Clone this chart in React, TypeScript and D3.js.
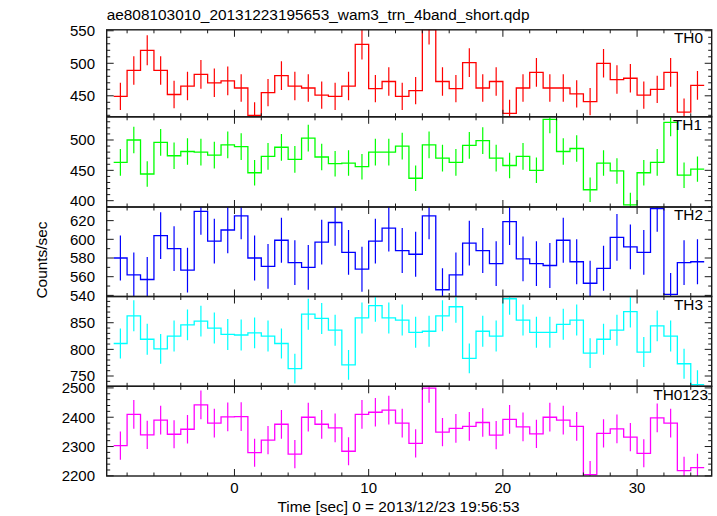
import React from "react";
import * as d3 from "d3";

// ---- data (1-s bins, centre times in seconds) ----
const binCentres = [
  -8.5, -7.5, -6.5, -5.5, -4.5, -3.5, -2.5, -1.5, -0.5, 0.5, 1.5, 2.5, 3.5, 4.5, 5.5,
  6.5, 7.5, 8.5, 9.5, 10.5, 11.5, 12.5, 13.5, 14.5, 15.5, 16.5, 17.5, 18.5, 19.5, 20.5,
  21.5, 22.5, 23.5, 24.5, 25.5, 26.5, 27.5, 28.5, 29.5, 30.5, 31.5, 32.5, 33.5, 34.5,
];
const binHalfWidth = 0.5;

const th0Rate = [
  449, 489, 520, 489, 452, 465, 483, 470, 473, 462, 420, 455, 481, 465, 462, 451, 449, 465, 529, 461,
  472, 449, 458, 552, 472, 461, 501, 462, 472, 423, 462, 486, 462, 462, 453, 441, 500, 475, 477, 451,
  460, 486, 425, 466,
];
const th0Err = [
  21, 22, 23, 22, 21, 22, 22, 22, 22, 21, 20, 21, 22, 22, 21, 21, 21, 22, 23, 21,
  22, 21, 21, 23, 22, 21, 22, 21, 22, 21, 21, 22, 21, 21, 21, 21, 22, 22, 22, 21,
  21, 22, 21, 22,
];
const th1Rate = [
  463, 500, 444, 496, 474, 481, 480, 475, 492, 489, 446, 473, 488, 468, 503, 472, 461, 462, 456, 480,
  480, 490, 437, 492, 470, 463, 491, 499, 470, 458, 473, 450, 534, 481, 486, 418, 462, 449, 393, 446,
  463, 529, 442, 452,
];
const th1Err = [
  22, 22, 21, 22, 22, 22, 22, 22, 22, 22, 21, 22, 22, 22, 22, 22, 21, 21, 21, 22,
  22, 22, 21, 22, 22, 22, 22, 22, 22, 21, 22, 21, 23, 22, 22, 20, 21, 21, 20, 21,
  22, 23, 21, 21,
];
const th2Rate = [
  580, 562, 557, 604, 590, 567, 630, 598, 610, 625, 580, 571, 599, 575, 570, 597, 618, 586, 568, 598,
  612, 588, 584, 625, 546, 562, 596, 588, 574, 619, 579, 574, 572, 599, 576, 553, 569, 602, 592, 586,
  633, 541, 575, 576,
];
const th2Err = [
  24, 24, 24, 25, 24, 24, 25, 24, 25, 25, 24, 24, 24, 24, 24, 24, 25, 24, 24, 24,
  25, 24, 24, 25, 23, 24, 24, 24, 24, 25, 24, 24, 24, 24, 24, 24, 24, 25, 24, 24,
  25, 23, 24, 24,
];
const th3Rate = [
  811, 863, 819, 801, 825, 846, 853, 840, 828, 827, 831, 825, 811, 764, 866, 858, 836, 771, 859, 882,
  859, 855, 832, 834, 863, 880, 783, 834, 825, 895, 855, 832, 832, 847, 855, 793, 819, 836, 871, 795,
  844, 825, 773, 734,
];
const th3Err = [
  28, 29, 29, 28, 29, 29, 29, 29, 29, 29, 29, 29, 28, 28, 29, 29, 29, 28, 29, 30,
  29, 29, 29, 29, 29, 30, 28, 29, 29, 30, 29, 29, 29, 29, 29, 28, 29, 29, 30, 28,
  29, 29, 28, 27,
];
const th0123Rate = [
  2303, 2410, 2340, 2390, 2342, 2359, 2442, 2380, 2401, 2402, 2279, 2322, 2376, 2274, 2400, 2376, 2364, 2284, 2410, 2417,
  2424, 2380, 2311, 2499, 2349, 2362, 2369, 2382, 2339, 2393, 2367, 2343, 2400, 2390, 2369, 2204, 2345, 2360, 2332, 2277,
  2398, 2380, 2218, 2228,
];
const th0123Err = [
  48, 49, 48, 49, 48, 49, 49, 49, 49, 49, 48, 48, 49, 48, 49, 49, 49, 48, 49, 49,
  49, 49, 48, 50, 48, 49, 49, 49, 48, 49, 49, 48, 49, 49, 49, 47, 48, 49, 48, 48,
  49, 49, 47, 47,
];

const panelNames = ["TH0", "TH1", "TH2", "TH3", "TH0123"];
const panelColors = ["#ff0000", "#00ff00", "#0000ff", "#00ffff", "#ff00ff"];
const panelDomains: [number, number][] = [
  [417.7, 551.5],
  [389.6, 538.2],
  [538.8, 634.6],
  [730.7, 899.2],
  [2199.5, 2505.5],
];
const yTickLabels = [
  [450, 500, 550],
  [400, 450, 500],
  [540, 560, 580, 600, 620],
  [750, 800, 850],
  [2200, 2300, 2400, 2500],
];
const yMinorSteps = [10, 10, 10, 10, 20];
const xTickLabels = [0, 10, 20, 30];
const xMinorStep = 2;
const xDomain: [number, number] = [-9.52, 35.56];

const titleText = "ae808103010_20131223195653_wam3_trn_4band_short.qdp";
const xAxisTitle = "Time [sec] 0 = 2013/12/23 19:56:53";
const yAxisTitle = "Counts/sec";

const rates = [th0Rate, th1Rate, th2Rate, th3Rate, th0123Rate];
const errs = [th0Err, th1Err, th2Err, th3Err, th0123Err];

// ---- layout ----
const W = 717;
const H = 516;
const LEFT = 106.7;
const RIGHT = 711.7;
const panelEdges = [29.8, 116.8, 207, 296.5, 386.3, 476];
const labelRight = [703, 702, 703, 703, 708];
const FONT = "'Liberation Sans', Arial, Helvetica, sans-serif";
const AXIS = "#1a1a1a";

export default function App() {
  const x = d3.scaleLinear().domain(xDomain).range([LEFT, RIGHT]);
  const xMinor = d3.range(Math.ceil(xDomain[0] / xMinorStep) * xMinorStep, xDomain[1], xMinorStep);

  return (
    <svg
      width={W}
      height={H}
      style={{ position: "absolute", left: 0, top: 0, display: "block", background: "#fff" }}
      fontFamily={FONT}
    >
      <rect x={0} y={0} width={W} height={H} fill="#fff" />
      <text x={LEFT} y={20} fontSize={15.4} fill="#000">
        {titleText}
      </text>
      {panelNames.map((name, pi) => {
        const top = panelEdges[pi];
        const bottom = panelEdges[pi + 1];
        const [lo, hi] = panelDomains[pi];
        const y = d3.scaleLinear().domain([lo, hi]).range([bottom, top]);
        const v = rates[pi];
        const e = errs[pi];
        const pts: [number, number][] = binCentres.map((t, i) => [t - binHalfWidth, v[i]]);
        pts.push([binCentres[binCentres.length - 1] + binHalfWidth, v[v.length - 1]]);
        const line = d3
          .line<[number, number]>()
          .x((d) => x(d[0]))
          .y((d) => y(d[1]))
          .curve(d3.curveStepAfter);
        const minor = d3.range(Math.ceil(lo / yMinorSteps[pi]) * yMinorSteps[pi], hi, yMinorSteps[pi]);
        const clipId = `clip-${pi}`;
        const color = panelColors[pi];
        return (
          <g key={name}>
            <defs>
              <clipPath id={clipId}>
                <rect x={LEFT} y={top} width={RIGHT - LEFT} height={bottom - top} />
              </clipPath>
            </defs>
            <g clipPath={`url(#${clipId})`}>
              {binCentres.map((t, i) => (
                <line
                  key={i}
                  x1={x(t)}
                  x2={x(t)}
                  y1={y(v[i] - e[i])}
                  y2={y(v[i] + e[i])}
                  stroke={color}
                  strokeWidth={1.2}
                />
              ))}
              <path d={line(pts) || ""} fill="none" stroke={color} strokeWidth={1.3} />
            </g>
            {/* y ticks left & right */}
            {minor.map((m) => {
              const major = yTickLabels[pi].includes(m);
              const len = major ? 7 : 3.5;
              const yy = y(m);
              return (
                <g key={`y${m}`}>
                  <line x1={LEFT} x2={LEFT + len} y1={yy} y2={yy} stroke={AXIS} strokeWidth={1} />
                  <line x1={RIGHT} x2={RIGHT - len} y1={yy} y2={yy} stroke={AXIS} strokeWidth={1} />
                </g>
              );
            })}
            {/* x ticks top & bottom */}
            {xMinor.map((m) => {
              const major = xTickLabels.includes(m);
              const len = major ? 7 : 3.5;
              const xx = x(m);
              return (
                <g key={`x${m}`}>
                  <line x1={xx} x2={xx} y1={top} y2={top + len} stroke={AXIS} strokeWidth={1} />
                  <line x1={xx} x2={xx} y1={bottom} y2={bottom - len} stroke={AXIS} strokeWidth={1} />
                </g>
              );
            })}
            <rect
              x={LEFT}
              y={top}
              width={RIGHT - LEFT}
              height={bottom - top}
              fill="none"
              stroke={AXIS}
              strokeWidth={1.4}
            />
            {yTickLabels[pi].map((t) => (
              <text
                key={`yl${t}`}
                x={95}
                y={y(t)}
                dy="0.36em"
                textAnchor="end"
                fontSize={15}
                fill="#000"
              >
                {t}
              </text>
            ))}
            <text x={labelRight[pi]} y={top + 13.2} textAnchor="end" fontSize={15.4} fill="#000">
              {name}
            </text>
          </g>
        );
      })}
      {xTickLabels.map((t) => (
        <text key={`xl${t}`} x={x(t)} y={493.3} textAnchor="middle" fontSize={15} fill="#000">
          {t}
        </text>
      ))}
      <text x={398.5} y={511.7} textAnchor="middle" fontSize={15.4} fill="#000">
        {xAxisTitle}
      </text>
      <text
        transform={`translate(46.5,260) rotate(-90)`}
        textAnchor="middle"
        fontSize={15.4}
        fill="#000"
      >
        {yAxisTitle}
      </text>
    </svg>
  );
}
